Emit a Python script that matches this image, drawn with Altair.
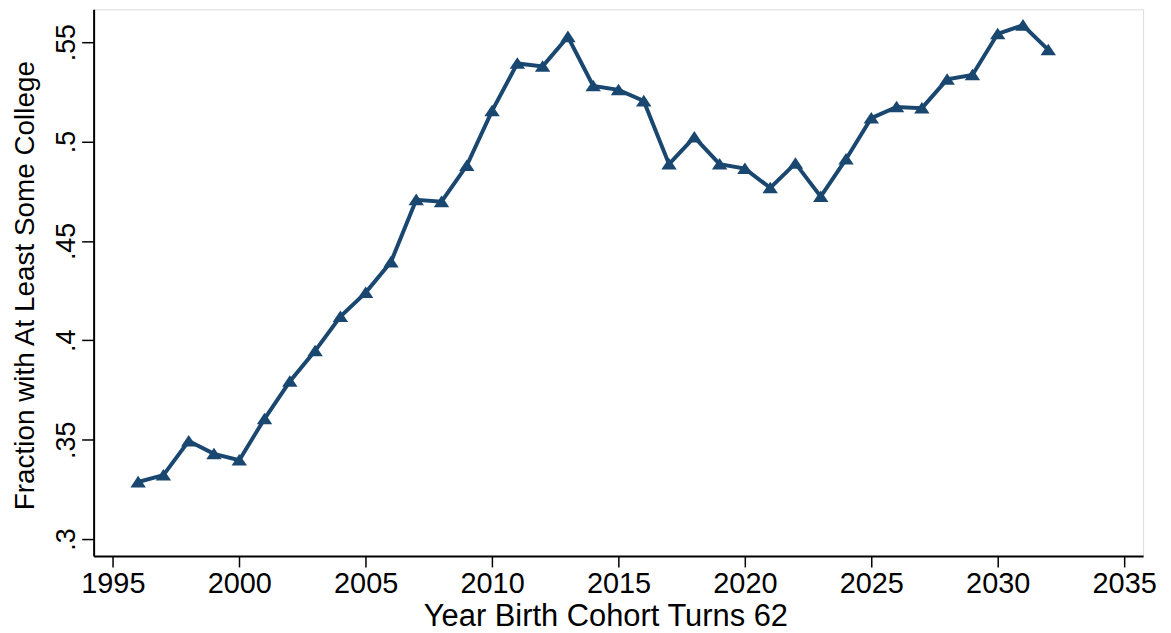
import altair as alt
import pandas as pd

years = [1996, 1997, 1998, 1999, 2000, 2001, 2002, 2003, 2004, 2005,
         2006, 2007, 2008, 2009, 2010, 2011, 2012, 2013, 2014, 2015,
         2016, 2017, 2018, 2019, 2020, 2021, 2022, 2023, 2024, 2025,
         2026, 2027, 2028, 2029, 2030, 2031, 2032]
fraction = [0.3287, 0.3322, 0.3493, 0.3429, 0.3397, 0.3605, 0.3793, 0.3947, 0.4119, 0.4240,
            0.4394, 0.4707, 0.4697, 0.4879, 0.5154, 0.5393, 0.5378, 0.5527, 0.5280, 0.5260,
            0.5204, 0.4886, 0.5022, 0.4886, 0.4864, 0.4767, 0.4890, 0.4723, 0.4911, 0.5118,
            0.5174, 0.5168, 0.5313, 0.5335, 0.5542, 0.5585, 0.5461]
x_ticks = [1995, 2000, 2005, 2010, 2015, 2020, 2025, 2030, 2035]
y_ticks = [0.3, 0.35, 0.4, 0.45, 0.5, 0.55]

df = pd.DataFrame({"year": years, "frac": fraction})

FONT = "Liberation Sans, Arial, sans-serif"
COLOR = "#1a476f"

x = alt.X(
    "year:Q",
    scale=alt.Scale(domain=[1994.24, 2035.75], nice=False, zero=False),
    axis=alt.Axis(
        values=x_ticks, format="d", grid=False,
        title="Year Birth Cohort Turns 62",
        titleFont=FONT, titleFontSize=31, titleFontWeight="normal", titleColor="black",
        titleBaseline="alphabetic", titleX=514, titleY=70, titleAlign="center",
        labelFont=FONT, labelFontSize=29, labelColor="black",
        labelBaseline="alphabetic", labelPadding=26, labelFlush=False,
        tickSize=11, tickWidth=1.5, tickColor="black",
        domainColor="black", domainWidth=2,
    ),
)
y = alt.Y(
    "frac:Q",
    scale=alt.Scale(domain=[0.2915, 0.5665], nice=False, zero=False),
    axis=alt.Axis(
        values=y_ticks, grid=False,
        labelExpr="replace(format(datum.value, '.2~f'), '0.', '.')",
        title="Fraction with At Least Some College",
        titleFont=FONT, titleFontSize=28, titleFontWeight="normal", titleColor="black",
        titleAngle=270, titleBaseline="alphabetic", titleAlign="center",
        titleX=-60, titleY=277,
        labelFont=FONT, labelFontSize=27, labelColor="black",
        labelAngle=270, labelAlign="center", labelBaseline="alphabetic",
        labelPadding=7, labelFlush=False,
        tickSize=12, tickWidth=1.5, tickColor="black",
        domainColor="black", domainWidth=2,
    ),
)

line = alt.Chart(df).mark_line(color=COLOR, strokeWidth=4).encode(x=x, y=y)
pts = alt.Chart(df).mark_point(
    shape="M0,-0.8L1,0.7L-1,0.7Z", filled=True, size=240, color=COLOR, opacity=1
).encode(x=x, y=y)

chart = (line + pts).properties(
    width=1054, height=549,
    autosize=alt.AutoSizeParams(type="none"),
    padding={"left": 86, "top": 0, "right": 20, "bottom": 76},
).configure_view(stroke="black", strokeWidth=2).configure(background="white")

chart.save("out.html", embed_options={"renderer": "svg", "actions": False})
